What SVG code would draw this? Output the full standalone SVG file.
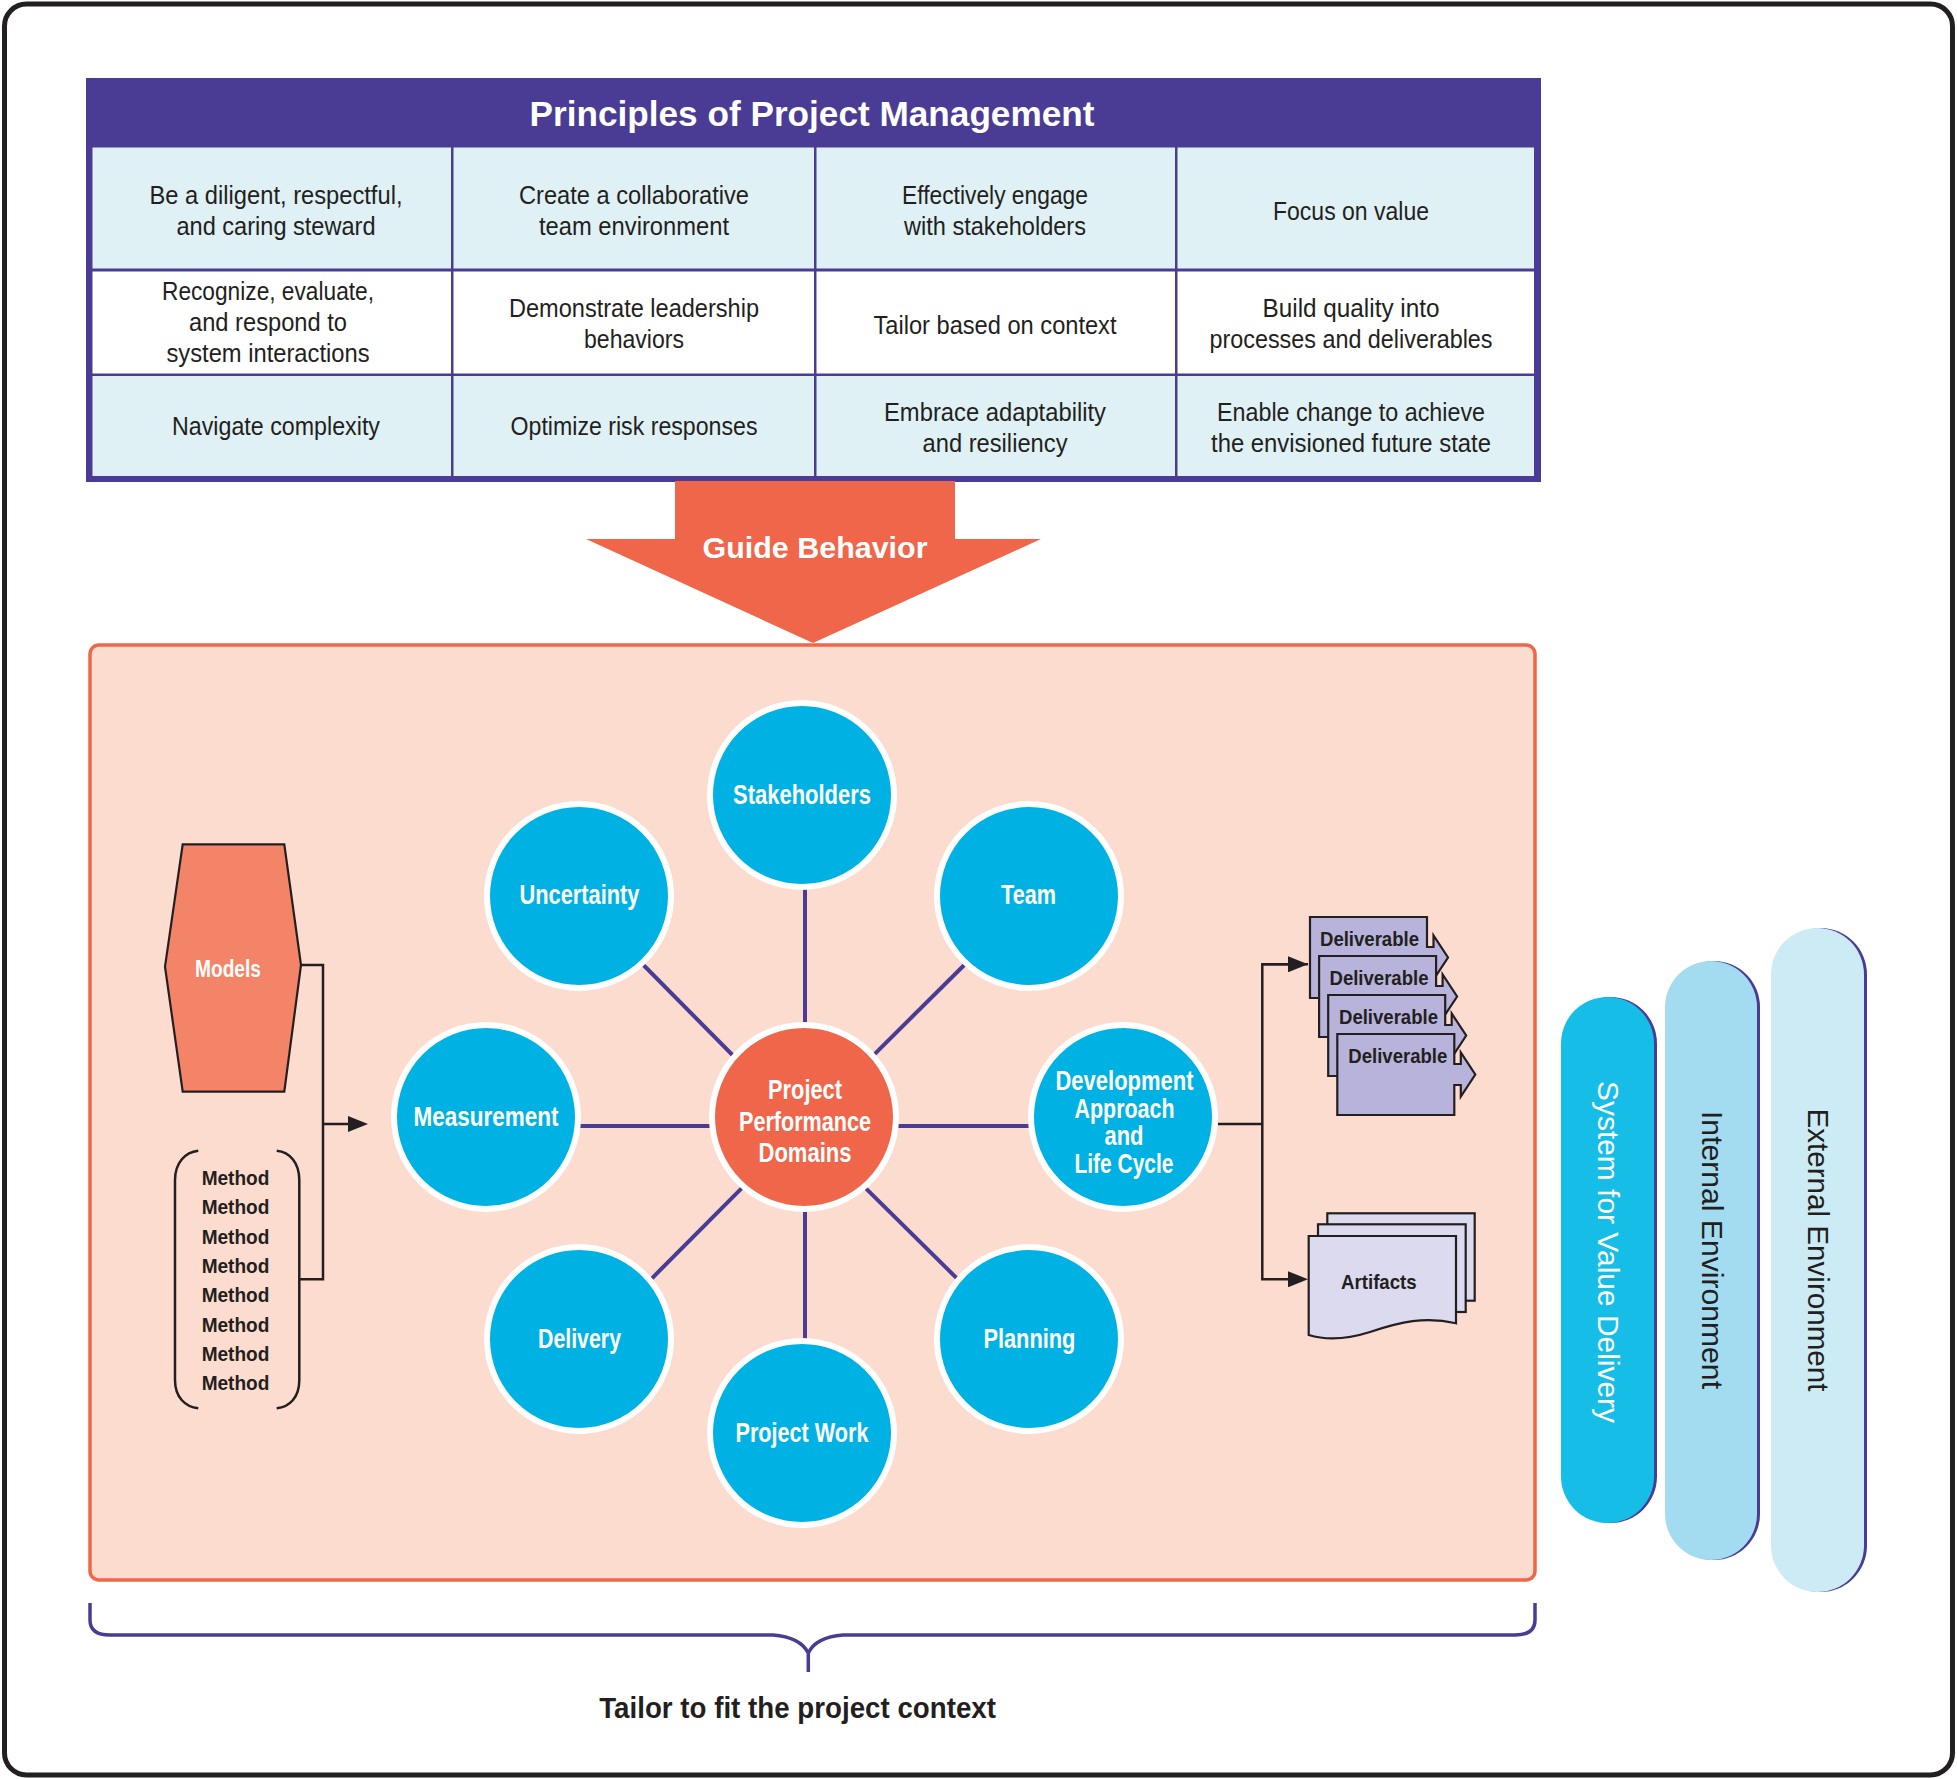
<svg xmlns="http://www.w3.org/2000/svg" width="1957" height="1779" viewBox="0 0 1957 1779">
<defs>
<style>
text{font-family:"Liberation Sans",Arial,sans-serif}
.cell{font-size:25px;fill:#231f20;text-anchor:middle}
.circ{font-size:28px;font-weight:bold;fill:#ffffff;text-anchor:middle}
.dom{fill:#00b2e3;stroke:#ffffff;stroke-width:6}
.ctr{fill:#f0664a;stroke:#ffffff;stroke-width:6}
.spoke{stroke:#4a3c94;stroke-width:4;fill:none}
.blk{stroke:#231f20;stroke-width:2.5;fill:none}
.dk{font-size:21px;font-weight:bold;fill:#231f20}
.deliv{fill:#b8b3db;stroke:#231f20;stroke-width:2.2}
.art{fill:#dcdaee;stroke:#231f20;stroke-width:2.2}
.pilltxt{font-size:30px;text-anchor:middle}
</style>
<marker id="arr" markerUnits="userSpaceOnUse" markerWidth="20" markerHeight="16" refX="15" refY="8" orient="auto">
<path d="M0,0 L20,8 L0,16 z" fill="#231f20"/>
</marker>
</defs>

<rect x="4.5" y="4" width="1948" height="1771" rx="22" fill="#ffffff" stroke="#231f20" stroke-width="5"/>

<g id="principles-table">
<rect x="86" y="78" width="1455" height="404" fill="#4a3c94"/>
<text x="812" y="126" font-size="35" font-weight="bold" fill="#ffffff" text-anchor="middle" textLength="565" lengthAdjust="spacingAndGlyphs">Principles of Project Management</text>
<g fill="#dff1f5">
<rect x="92.5" y="147.5" width="358.5" height="121"/>
<rect x="453.5" y="147.5" width="360.5" height="121"/>
<rect x="816.5" y="147.5" width="358.5" height="121"/>
<rect x="1177.5" y="147.5" width="356.5" height="121"/>
<rect x="92.5" y="376" width="358.5" height="100"/>
<rect x="453.5" y="376" width="360.5" height="100"/>
<rect x="816.5" y="376" width="358.5" height="100"/>
<rect x="1177.5" y="376" width="356.5" height="100"/>
</g>
<g fill="#ffffff">
<rect x="92.5" y="271.5" width="358.5" height="102"/>
<rect x="453.5" y="271.5" width="360.5" height="102"/>
<rect x="816.5" y="271.5" width="358.5" height="102"/>
<rect x="1177.5" y="271.5" width="356.5" height="102"/>
</g>
<text class="cell" x="276" y="204" textLength="253" lengthAdjust="spacingAndGlyphs">Be a diligent, respectful,</text>
<text class="cell" x="276" y="235" textLength="199" lengthAdjust="spacingAndGlyphs">and caring steward</text>
<text class="cell" x="634" y="204" textLength="230" lengthAdjust="spacingAndGlyphs">Create a collaborative</text>
<text class="cell" x="634" y="235" textLength="190" lengthAdjust="spacingAndGlyphs">team environment</text>
<text class="cell" x="995" y="204" textLength="186" lengthAdjust="spacingAndGlyphs">Effectively engage</text>
<text class="cell" x="995" y="235" textLength="182" lengthAdjust="spacingAndGlyphs">with stakeholders</text>
<text class="cell" x="1351" y="220" textLength="156" lengthAdjust="spacingAndGlyphs">Focus on value</text>

<text class="cell" x="268" y="300" textLength="212" lengthAdjust="spacingAndGlyphs">Recognize, evaluate,</text>
<text class="cell" x="268" y="331" textLength="158" lengthAdjust="spacingAndGlyphs">and respond to</text>
<text class="cell" x="268" y="362" textLength="203" lengthAdjust="spacingAndGlyphs">system interactions</text>
<text class="cell" x="634" y="317" textLength="250" lengthAdjust="spacingAndGlyphs">Demonstrate leadership</text>
<text class="cell" x="634" y="348" textLength="100" lengthAdjust="spacingAndGlyphs">behaviors</text>
<text class="cell" x="995" y="334" textLength="243" lengthAdjust="spacingAndGlyphs">Tailor based on context</text>
<text class="cell" x="1351" y="317" textLength="177" lengthAdjust="spacingAndGlyphs">Build quality into</text>
<text class="cell" x="1351" y="348" textLength="283" lengthAdjust="spacingAndGlyphs">processes and deliverables</text>

<text class="cell" x="276" y="435" textLength="208" lengthAdjust="spacingAndGlyphs">Navigate complexity</text>
<text class="cell" x="634" y="435" textLength="247" lengthAdjust="spacingAndGlyphs">Optimize risk responses</text>
<text class="cell" x="995" y="421" textLength="222" lengthAdjust="spacingAndGlyphs">Embrace adaptability</text>
<text class="cell" x="995" y="452" textLength="145" lengthAdjust="spacingAndGlyphs">and resiliency</text>
<text class="cell" x="1351" y="421" textLength="268" lengthAdjust="spacingAndGlyphs">Enable change to achieve</text>
<text class="cell" x="1351" y="452" textLength="280" lengthAdjust="spacingAndGlyphs">the envisioned future state</text>
</g>

<g id="guide-behavior">
<polygon points="675,481 955,481 955,539 1041,539 813,643 586,539 675,539" fill="#f0664a"/>
<text x="815" y="558" font-size="30" font-weight="bold" fill="#ffffff" text-anchor="middle" textLength="225" lengthAdjust="spacingAndGlyphs">Guide Behavior</text>
</g>

<g id="performance-area">
<rect x="90" y="645" width="1445" height="935" rx="9" fill="#fddcd0" stroke="#f0664a" stroke-width="3.5"/>
</g>

<g id="connectors">
<line class="spoke" x1="805" y1="880" x2="805" y2="1035"/>
<line class="spoke" x1="805" y1="1202" x2="805" y2="1350"/>
<line class="spoke" x1="570" y1="1126" x2="720" y2="1126"/>
<line class="spoke" x1="888" y1="1126" x2="1040" y2="1126"/>
<line class="spoke" x1="638" y1="959.5" x2="739.4" y2="1062"/>
<line class="spoke" x1="969.8" y1="959.5" x2="868.3" y2="1060.3"/>
<line class="spoke" x1="747" y1="1182.8" x2="646" y2="1284.3"/>
<line class="spoke" x1="860.3" y1="1182.8" x2="962.9" y2="1284.3"/>
<path class="blk" d="M301,965 H323 V1279.3 H299.3"/>
<path class="blk" d="M323,1124 H363" marker-end="url(#arr)"/>
<path class="blk" d="M1218,1124 H1262.3"/>
<path class="blk" d="M1308,964.3 H1262.3 V1279.3 H1303" marker-end="url(#arr)"/>
<path class="blk" d="M1262.3,964.3 H1303" marker-end="url(#arr)"/>
</g>

<g id="node-stakeholders">
<circle class="dom" cx="802" cy="795" r="92"/>
<text class="circ" x="802" y="804" textLength="138" lengthAdjust="spacingAndGlyphs">Stakeholders</text>
</g>
<g id="node-uncertainty">
<circle class="dom" cx="579" cy="896" r="92"/>
<text class="circ" x="579.5" y="904" textLength="120" lengthAdjust="spacingAndGlyphs">Uncertainty</text>
</g>
<g id="node-team">
<circle class="dom" cx="1029" cy="896" r="92"/>
<text class="circ" x="1028.6" y="904" textLength="55" lengthAdjust="spacingAndGlyphs">Team</text>
</g>
<g id="node-measurement">
<circle class="dom" cx="486" cy="1117" r="92"/>
<text class="circ" x="486" y="1125.5" textLength="145" lengthAdjust="spacingAndGlyphs">Measurement</text>
</g>
<g id="node-domains">
<circle class="ctr" cx="804" cy="1117" r="92"/>
<text class="circ" x="805" y="1099.4" textLength="74" lengthAdjust="spacingAndGlyphs">Project</text>
<text class="circ" x="805" y="1130.5" textLength="132" lengthAdjust="spacingAndGlyphs">Performance</text>
<text class="circ" x="805" y="1162" textLength="93" lengthAdjust="spacingAndGlyphs">Domains</text>
</g>
<g id="node-development">
<circle class="dom" cx="1123" cy="1117" r="92"/>
<text class="circ" x="1124.5" y="1089.7" textLength="138" lengthAdjust="spacingAndGlyphs">Development</text>
<text class="circ" x="1124.5" y="1117.5" textLength="100" lengthAdjust="spacingAndGlyphs">Approach</text>
<text class="circ" x="1124" y="1145" textLength="39" lengthAdjust="spacingAndGlyphs">and</text>
<text class="circ" x="1124" y="1172.8" textLength="99" lengthAdjust="spacingAndGlyphs">Life Cycle</text>
</g>
<g id="node-delivery">
<circle class="dom" cx="579" cy="1339" r="92"/>
<text class="circ" x="579.5" y="1348" textLength="83" lengthAdjust="spacingAndGlyphs">Delivery</text>
</g>
<g id="node-planning">
<circle class="dom" cx="1029" cy="1339" r="92"/>
<text class="circ" x="1029.4" y="1348" textLength="92" lengthAdjust="spacingAndGlyphs">Planning</text>
</g>
<g id="node-project-work">
<circle class="dom" cx="802" cy="1433" r="92"/>
<text class="circ" x="802" y="1442" textLength="133" lengthAdjust="spacingAndGlyphs">Project Work</text>
</g>

<g id="node-models">
<polygon points="182.7,844.3 284.3,844.3 301,965 284.3,1091.7 182.7,1091.7 165,966.7" fill="#f38468" stroke="#231f20" stroke-width="2.2"/>
<text x="228" y="976.7" font-size="23" font-weight="bold" fill="#ffffff" text-anchor="middle" textLength="66" lengthAdjust="spacingAndGlyphs">Models</text>
</g>

<g id="node-methods">
<path class="blk" d="M198.3,1150.7 C185,1152 175,1163 175,1180 V1380 C175,1397 185,1407 198.3,1408.3"/>
<path class="blk" d="M276.7,1150.7 C290,1152 299.3,1163 299.3,1180 V1380 C299.3,1397 290,1407 276.7,1408.3"/>
<g class="dk" text-anchor="middle">
<text x="235.5" y="1185" textLength="67.7" lengthAdjust="spacingAndGlyphs">Method</text>
<text x="235.5" y="1214.3" textLength="67.7" lengthAdjust="spacingAndGlyphs">Method</text>
<text x="235.5" y="1243.6" textLength="67.7" lengthAdjust="spacingAndGlyphs">Method</text>
<text x="235.5" y="1272.9" textLength="67.7" lengthAdjust="spacingAndGlyphs">Method</text>
<text x="235.5" y="1302.2" textLength="67.7" lengthAdjust="spacingAndGlyphs">Method</text>
<text x="235.5" y="1331.5" textLength="67.7" lengthAdjust="spacingAndGlyphs">Method</text>
<text x="235.5" y="1360.8" textLength="67.7" lengthAdjust="spacingAndGlyphs">Method</text>
<text x="235.5" y="1390.1" textLength="67.7" lengthAdjust="spacingAndGlyphs">Method</text>
</g>
</g>

<g id="node-deliverables">
<path class="deliv" d="M1310,917 H1427 V947 H1433.5 V935.5 L1448,957.5 L1433.5,979.5 V968 H1427 V998 H1310 Z"/>
<text class="dk" x="1320" y="946" textLength="99" lengthAdjust="spacingAndGlyphs">Deliverable</text>
<path class="deliv" d="M1319.1,956 H1436.1 V986 H1442.6 V974.5 L1457.1,996.5 L1442.6,1018.5 V1007 H1436.1 V1037 H1319.1 Z"/>
<text class="dk" x="1329.5" y="985" textLength="99" lengthAdjust="spacingAndGlyphs">Deliverable</text>
<path class="deliv" d="M1328.2,995 H1445.2 V1025 H1451.7 V1013.5 L1466.2,1035.5 L1451.7,1057.5 V1046 H1445.2 V1076 H1328.2 Z"/>
<text class="dk" x="1339" y="1024" textLength="99" lengthAdjust="spacingAndGlyphs">Deliverable</text>
<path class="deliv" d="M1337.3,1034 H1454.3 V1064 H1460.8 V1052.5 L1475.3,1074.5 L1460.8,1096.5 V1085 H1454.3 V1115 H1337.3 Z"/>
<text class="dk" x="1348.3" y="1063.3" textLength="99" lengthAdjust="spacingAndGlyphs">Deliverable</text>
</g>

<g id="node-artifacts">
<rect class="art" x="1327.3" y="1213.3" width="147.4" height="87.4"/>
<rect class="art" x="1318" y="1224.3" width="147.7" height="87.7"/>
<path class="art" d="M1308.7,1236 H1456 V1323.3 C1425,1316 1400,1322 1370,1332 C1348,1339 1328,1341 1308.7,1335 Z"/>
<text class="dk" x="1341" y="1289.3" textLength="75.7" lengthAdjust="spacingAndGlyphs">Artifacts</text>
</g>

<g id="node-system-value-delivery">
<rect x="1564" y="997" width="93" height="526" rx="46.5" fill="#4a3c94"/>
<rect x="1561" y="997" width="93" height="526" rx="46.5" fill="#16bde6"/>
<text class="pilltxt" fill="#ffffff" transform="translate(1608,1252) rotate(90)" x="0" y="10.5" textLength="342" lengthAdjust="spacingAndGlyphs">System for Value Delivery</text>
</g>
<g id="node-internal-environment">
<rect x="1668" y="961" width="92" height="599" rx="46" fill="#4a3c94"/>
<rect x="1665" y="961" width="92" height="599" rx="46" fill="#a3dcf1"/>
<text class="pilltxt" fill="#231f20" transform="translate(1712,1250) rotate(90)" x="0" y="10.5" textLength="278" lengthAdjust="spacingAndGlyphs">Internal Environment</text>
</g>
<g id="node-external-environment">
<rect x="1774" y="928" width="93" height="664" rx="46.5" fill="#4a3c94"/>
<rect x="1771" y="928" width="93" height="664" rx="46.5" fill="#cdebf5"/>
<text class="pilltxt" fill="#231f20" transform="translate(1818,1250) rotate(90)" x="0" y="10.5" textLength="283" lengthAdjust="spacingAndGlyphs">External Environment</text>
</g>

<g id="tailor-brace">
<path d="M90,1603 V1620 Q90,1635 110,1635 H773 Q800,1637 808.3,1653 V1672 M808.3,1653 Q816,1637 843,1635 H1515 Q1535,1635 1535,1620 V1603" fill="none" stroke="#4a3c94" stroke-width="3.5"/>
<text x="797.6" y="1718.3" font-size="29" font-weight="bold" fill="#231f20" text-anchor="middle" textLength="396.7" lengthAdjust="spacingAndGlyphs">Tailor to fit the project context</text>
</g>
</svg>
